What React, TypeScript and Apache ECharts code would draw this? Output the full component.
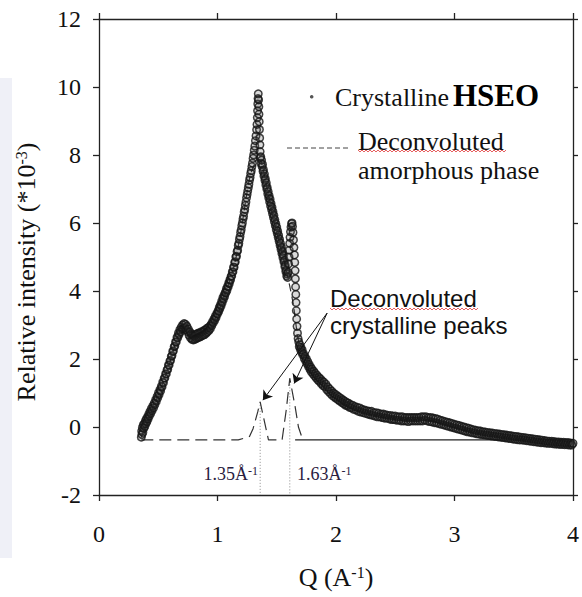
import React, { useEffect, useRef } from 'react';
import * as echarts from 'echarts';

// ---- Data (Q in Å^-1, relative intensity *10^-3) ----
const risePoints = [
  [0.357,-0.3],[0.36,-0.12],[0.362,-0.22],[0.366,-0.02],[0.37,-0.16],[0.374,0.06],[0.378,-0.04],[0.382,0.1],[0.387,0.02],[0.391,0.18],
  [0.396,0.1],[0.4,0.24],[0.405,0.16],[0.41,0.3],[0.415,0.24],[0.42,0.38],[0.425,0.32],[0.43,0.46],[0.436,0.4],[0.442,0.54],
  [0.448,0.48],[0.454,0.62],[0.46,0.56],[0.466,0.7],[0.472,0.66],[0.478,0.8],[0.484,0.76],[0.49,0.9],[0.496,0.86],[0.502,1.0],
  [0.508,0.96],[0.514,1.1],[0.52,1.06],[0.526,1.2],[0.532,1.18],[0.538,1.32],[0.544,1.3],[0.55,1.44],[0.556,1.44],[0.562,1.56],
  [0.568,1.56],[0.574,1.68],[0.58,1.7],[0.586,1.82],[0.592,1.82],[0.598,1.94],[0.604,1.96],[0.61,2.08],[0.616,2.1],[0.622,2.22],
  [0.628,2.24],[0.634,2.36],[0.64,2.38],[0.646,2.5],[0.652,2.5],[0.658,2.64],[0.664,2.62],[0.67,2.76],[0.676,2.72],[0.682,2.86],
  [0.688,2.8],[0.694,2.94],[0.7,2.88]
];
const shoulderPoints = [
  [0.706,3.0],[0.712,2.9],[0.718,3.04],[0.724,2.92],[0.73,3.02],[0.736,2.86],[0.742,2.96],[0.748,2.8],[0.754,2.88],[0.76,2.7],
  [0.766,2.8],[0.772,2.62],[0.778,2.74],[0.784,2.58],[0.79,2.7],[0.796,2.56],[0.802,2.68],[0.808,2.58],[0.814,2.72],[0.82,2.6],
  [0.826,2.74],[0.832,2.62],[0.838,2.76],[0.844,2.64],[0.85,2.76],[0.856,2.66],[0.862,2.8],[0.868,2.68],[0.874,2.8],[0.88,2.7],
  [0.886,2.84],[0.892,2.72],[0.898,2.86],[0.904,2.76],[0.91,2.9],[0.916,2.8],[0.922,2.92],[0.928,2.84],[0.934,2.96],[0.94,2.9],
  [0.946,3.02],[0.952,2.98],[0.958,3.1],[0.964,3.06],[0.97,3.18],[0.976,3.14],[0.982,3.26],[0.988,3.22],[0.994,3.34],[1.0,3.32]
];
const mainRisePoints = [
  [1.005,3.42],[1.01,3.4],[1.015,3.52],[1.02,3.48],[1.025,3.6],[1.03,3.56],[1.035,3.7],[1.04,3.66],[1.045,3.8],[1.05,3.76],
  [1.055,3.88],[1.06,3.84],[1.065,3.96],[1.07,3.94],[1.075,4.06],[1.08,4.02],[1.085,4.14],[1.09,4.12],[1.095,4.24],[1.1,4.22],
  [1.105,4.34],[1.11,4.32],[1.115,4.44],[1.12,4.44],[1.125,4.56],[1.13,4.56],[1.135,4.7],[1.14,4.7],[1.145,4.84],[1.15,4.86],
  [1.155,5.0],[1.16,5.02],[1.165,5.16],[1.17,5.2],[1.175,5.34],[1.18,5.4],[1.185,5.52],[1.19,5.6],[1.195,5.72],[1.2,5.8],
  [1.205,5.92],[1.21,6.0],[1.215,6.12],[1.22,6.2],[1.225,6.32],[1.23,6.4],[1.235,6.52],[1.24,6.62],[1.245,6.74],[1.25,6.84],
  [1.255,6.94],[1.26,7.04],[1.265,7.14],[1.27,7.26],[1.275,7.34],[1.28,7.46],[1.285,7.54],[1.29,7.66],[1.295,7.76],[1.3,7.9],
  [1.305,8.0],[1.31,8.14],[1.315,8.26],[1.32,8.42],[1.325,8.56],[1.33,8.74]
];
const peakTopPoints = [
  [1.333,8.9],[1.336,9.1],[1.338,9.3],[1.34,9.5],[1.342,9.66],[1.344,9.8],[1.347,9.62],[1.349,9.42],[1.35,9.2],[1.352,8.98],
  [1.354,8.75],[1.356,8.5],[1.358,8.3],[1.36,8.1],[1.362,7.92]
];
const mainFallPoints = [
  [1.365,7.95],[1.368,7.75],[1.372,7.85],[1.376,7.66],[1.38,7.72],[1.384,7.52],[1.388,7.56],[1.392,7.38],[1.396,7.44],[1.4,7.26],
  [1.404,7.3],[1.408,7.12],[1.412,7.18],[1.416,7.0],[1.42,7.04],[1.424,6.86],[1.428,6.92],[1.432,6.74],[1.436,6.8],[1.44,6.62],
  [1.444,6.7],[1.448,6.5],[1.452,6.58],[1.456,6.4],[1.46,6.46],[1.464,6.28],[1.468,6.34],[1.472,6.16],[1.476,6.22],[1.48,6.04],
  [1.484,6.1],[1.488,5.92],[1.492,5.98],[1.496,5.8],[1.5,5.88],[1.504,5.7],[1.508,5.76],[1.512,5.58],[1.516,5.64],[1.52,5.46],
  [1.524,5.52],[1.528,5.34],[1.532,5.4],[1.536,5.22],[1.54,5.28],[1.544,5.1],[1.548,5.16],[1.552,4.98],[1.556,5.04],[1.56,4.86],
  [1.564,4.9],[1.568,4.72],[1.572,4.76],[1.576,4.58],[1.58,4.62],[1.584,4.44],[1.588,4.5],[1.592,4.4]
];
const secondPeakPoints = [
  [1.596,4.55],[1.6,4.8],[1.603,5.0],[1.606,5.2],[1.609,5.4],[1.612,5.58],[1.616,5.74],[1.62,5.88],[1.625,5.98],[1.629,6.0],
  [1.633,5.9],[1.637,5.72],[1.641,5.5],[1.645,5.28],[1.649,5.06],[1.652,4.84],[1.655,4.6],[1.657,4.36],[1.659,4.12],[1.661,3.9],
  [1.663,3.66],[1.665,3.42],[1.668,3.18],[1.671,2.96],[1.675,2.76],[1.68,2.6]
];
const tailPoints = [
  [1.686,2.5],[1.69,2.36],[1.695,2.42],[1.7,2.28],[1.705,2.34],[1.71,2.2],[1.715,2.26],[1.72,2.12],[1.726,2.16],[1.732,2.02],
  [1.738,2.08],[1.744,1.94],[1.75,2.0],[1.756,1.86],[1.762,1.92],[1.768,1.78],[1.774,1.84],[1.78,1.7],[1.786,1.76],[1.792,1.62],
  [1.798,1.7],[1.805,1.56],[1.812,1.64],[1.819,1.5],[1.826,1.58],[1.833,1.44],[1.84,1.52],[1.847,1.38],[1.854,1.46],[1.861,1.34],
  [1.868,1.42],[1.875,1.28],[1.882,1.36],[1.89,1.22],[1.898,1.32],[1.906,1.18],[1.914,1.26],[1.922,1.1],[1.93,1.18],[1.938,1.04],
  [1.946,1.12],[1.954,0.98],[1.962,1.06],[1.97,0.92],[1.978,1.0],[1.986,0.88],[1.994,0.96],[2.002,0.84],[2.01,0.92],[2.018,0.8],
  [2.026,0.88],[2.034,0.76],[2.042,0.84],[2.05,0.72],[2.058,0.8],[2.066,0.68],[2.074,0.76],[2.082,0.64],[2.09,0.72],[2.098,0.62],
  [2.106,0.7],[2.114,0.58],[2.122,0.66],[2.13,0.56],[2.14,0.64],[2.15,0.52],[2.16,0.6],[2.17,0.5],[2.18,0.58],[2.19,0.46],
  [2.2,0.56],[2.21,0.44],[2.22,0.52],[2.23,0.42],[2.24,0.5],[2.25,0.4],[2.26,0.48],[2.27,0.38],[2.28,0.46],[2.29,0.36],
  [2.3,0.46],[2.31,0.34],[2.32,0.42],[2.33,0.32],[2.34,0.42],[2.35,0.3],[2.36,0.4],[2.37,0.3],[2.38,0.38],[2.39,0.28],
  [2.4,0.38],[2.41,0.26],[2.42,0.36],[2.43,0.26],[2.44,0.34],[2.45,0.24],[2.46,0.34],[2.47,0.22],[2.48,0.32],[2.49,0.22],
  [2.5,0.32],[2.51,0.2],[2.52,0.3],[2.53,0.2],[2.54,0.3],[2.55,0.18],[2.56,0.3],[2.57,0.18],[2.58,0.28],[2.59,0.18],
  [2.6,0.28],[2.61,0.16],[2.62,0.28],[2.63,0.18],[2.64,0.28],[2.65,0.18],[2.66,0.28],[2.67,0.18],[2.68,0.28],[2.69,0.18],
  [2.7,0.28],[2.71,0.18],[2.72,0.3],[2.73,0.18],[2.74,0.3],[2.75,0.2],[2.76,0.3],[2.77,0.18],[2.78,0.28],[2.79,0.16],
  [2.8,0.28],[2.81,0.15],[2.82,0.26],[2.83,0.13],[2.84,0.25],[2.85,0.12],[2.86,0.23],[2.87,0.1],[2.88,0.2],[2.89,0.08],
  [2.9,0.18],[2.91,0.06],[2.92,0.16],[2.93,0.04],[2.94,0.14],[2.95,0.02],[2.96,0.12],[2.97,0.0],[2.98,0.1],[2.99,-0.02],
  [3.0,0.08],[3.01,-0.04],[3.02,0.06],[3.03,-0.06],[3.04,0.04],[3.05,-0.08],[3.06,0.02],[3.07,-0.1],[3.08,0.0],[3.09,-0.12],
  [3.1,-0.02],[3.11,-0.14],[3.12,-0.04],[3.13,-0.15],[3.14,-0.06],[3.15,-0.17],[3.16,-0.08],[3.17,-0.18],[3.18,-0.1],[3.19,-0.2],
  [3.2,-0.11],[3.21,-0.21],[3.22,-0.12],[3.23,-0.22],[3.24,-0.14],[3.25,-0.23],[3.26,-0.15],[3.27,-0.24],[3.28,-0.16],[3.29,-0.25],
  [3.3,-0.17],[3.31,-0.26],[3.32,-0.18],[3.33,-0.27],[3.34,-0.19],[3.35,-0.28],[3.36,-0.2],[3.37,-0.29],[3.38,-0.21],[3.39,-0.3],
  [3.4,-0.22],[3.41,-0.31],[3.42,-0.23],[3.43,-0.32],[3.44,-0.24],[3.45,-0.33],[3.46,-0.25],[3.47,-0.34],[3.48,-0.26],[3.49,-0.35],
  [3.5,-0.27],[3.51,-0.36],[3.52,-0.28],[3.53,-0.37],[3.54,-0.29],[3.55,-0.38],[3.56,-0.3],[3.57,-0.38],[3.58,-0.31],[3.59,-0.39],
  [3.6,-0.32],[3.61,-0.4],[3.62,-0.33],[3.63,-0.41],[3.64,-0.34],[3.65,-0.42],[3.66,-0.35],[3.67,-0.43],[3.68,-0.36],[3.69,-0.44],
  [3.7,-0.37],[3.71,-0.45],[3.72,-0.38],[3.73,-0.46],[3.74,-0.39],[3.75,-0.46],[3.76,-0.4],[3.77,-0.47],[3.78,-0.41],[3.79,-0.48],
  [3.8,-0.42],[3.81,-0.48],[3.82,-0.42],[3.83,-0.49],[3.84,-0.43],[3.85,-0.5],[3.86,-0.44],[3.87,-0.5],[3.88,-0.44],[3.89,-0.51],
  [3.9,-0.45],[3.91,-0.51],[3.92,-0.45],[3.93,-0.52],[3.94,-0.46],[3.95,-0.52],[3.96,-0.46],[3.97,-0.53],[3.98,-0.47],[3.99,-0.53],[4.0,-0.48]
];

const amorphousCurve = [
  [0.357,-0.3],[0.4,0.1],[0.45,0.52],[0.5,0.94],[0.55,1.4],[0.6,1.92],[0.65,2.5],[0.7,2.88],[0.75,2.84],[0.8,2.64],
  [0.85,2.7],[0.9,2.82],[0.95,3.0],[1.0,3.32],[1.05,3.78],[1.1,4.26],[1.15,4.88],[1.2,5.8],[1.24,6.7],[1.27,7.3],
  [1.3,7.64],[1.33,7.8],[1.355,7.86],[1.38,7.66],[1.42,6.98],[1.47,6.14],[1.52,5.46],[1.56,4.9],[1.6,4.3],[1.64,3.6],
  [1.68,2.6],[1.72,2.15],[1.76,1.9],[1.8,1.64],[1.9,1.26],[2.0,0.9],[2.1,0.67],[2.2,0.5],[2.4,0.33],[2.6,0.23],
  [2.8,0.22],[3.0,0.02],[3.2,-0.16],[3.4,-0.27],[3.6,-0.36],[3.8,-0.45],[4.0,-0.5]
];
const crystallinePeakCurve = [
  [0.357,-0.38],[1.175,-0.38],[1.27,-0.28],[1.3,-0.05],[1.34,0.45],[1.36,0.74],[1.43,-0.38],[1.545,-0.38],[1.58,0.5],
  [1.61,1.43],[1.655,0.6],[1.683,0.0],[1.72,-0.38]
];
const solidBaseline = [[1.655,-0.38],[4.0,-0.38]];
const peakPositions = [1.36, 1.61];
const peakHeights = [0.74, 1.43];
const peakLabels = ['1.35', '1.63'];
const arrowStart = [1.925, 3.35];
const arrowTargets = [[1.383, 0.79], [1.647, 1.28]];
const xRange = { min: 0, max: 4, interval: 1 };
const yRange = { min: -2, max: 12, interval: 2 };

const serif = 'Liberation Serif';
const sans = 'Liberation Sans';
const ink = '#111';

function wavy(x0: number, x1: number, y: number) {
  const pts: number[][] = [];
  let k = 0;
  for (let x = x0; x <= x1; x += 2) {
    pts.push([x, y + (k % 2 === 0 ? -1 : 1)]);
    k++;
  }
  return { type: 'polyline', shape: { points: pts }, style: { stroke: '#e03a3a', lineWidth: 0.8, fill: null } };
}

export default function App() {
  const ref = useRef<HTMLDivElement>(null);
  useEffect(() => {
    document.body.style.margin = '0';
    const chart = echarts.init(ref.current!, null, { renderer: 'svg' });
    const axisLineStyle = { color: '#222', width: 1.3 };
    const crystalline = [
      ...risePoints, ...shoulderPoints, ...mainRisePoints, ...peakTopPoints,
      ...mainFallPoints, ...secondPeakPoints, ...tailPoints
    ];
    const supLabel = (size: number, supSize: number, color: string) => ({
      b: { fontSize: size, fontFamily: serif, color, fill: color },
      sup: { fontSize: supSize, fontFamily: serif, color, fill: color, verticalAlign: 'top' }
    });
    const option: any = {
      animation: false,
      backgroundColor: '#ffffff',
      textStyle: { fontFamily: serif },
      grid: { left: 99, top: 19, width: 477, height: 476 },
      xAxis: [
        {
          type: 'value', position: 'bottom', ...xRange,
          axisLine: { show: true, onZero: false, lineStyle: axisLineStyle },
          axisTick: { show: true, inside: false, length: 6, lineStyle: axisLineStyle },
          axisLabel: { fontSize: 24, fontFamily: serif, color: ink, margin: 27 },
          splitLine: { show: false },
          name: '{b|Q (A}{sup|-1}{b|)}', nameLocation: 'middle', nameGap: 69,
          nameTextStyle: { fontSize: 26, fontFamily: serif, color: ink, rich: supLabel(26, 16, ink) }
        },
        {
          type: 'value', position: 'top', ...xRange,
          axisLine: { show: true, onZero: false, lineStyle: axisLineStyle },
          axisTick: { show: true, inside: false, length: 6, lineStyle: axisLineStyle },
          axisLabel: { show: false }, splitLine: { show: false }
        }
      ],
      yAxis: [
        {
          type: 'value', position: 'left', ...yRange,
          axisLine: { show: true, onZero: false, lineStyle: axisLineStyle },
          axisTick: { show: true, inside: false, length: 6, lineStyle: axisLineStyle },
          axisLabel: { fontSize: 24, fontFamily: serif, color: ink, margin: 18 },
          splitLine: { show: false }
        },
        {
          type: 'value', position: 'right', ...yRange,
          axisLine: { show: true, onZero: false, lineStyle: axisLineStyle },
          axisTick: { show: true, inside: false, length: 5, lineStyle: axisLineStyle },
          axisLabel: { show: false }, splitLine: { show: false }
        }
      ],
      series: [
        {
          name: 'Deconvoluted amorphous phase', type: 'line', data: amorphousCurve,
          symbol: 'none', smooth: 0.3, z: 2,
          lineStyle: { color: '#333', width: 1.2, type: [8, 5] }
        },
        {
          name: 'Crystalline HSEO', type: 'scatter', data: crystalline, z: 3,
          symbol: 'circle', symbolSize: 7.5,
          itemStyle: { color: 'rgba(70,70,70,0.25)', borderColor: '#151515', borderWidth: 1.5 }
        },
        {
          name: 'Deconvoluted crystalline peaks', type: 'line', data: crystallinePeakCurve,
          symbol: 'none', z: 2,
          lineStyle: { color: '#333', width: 1.2, type: [12, 6] }
        },
        {
          name: 'baseline', type: 'line', data: solidBaseline, symbol: 'none', z: 2,
          lineStyle: { color: '#222', width: 1.3 }
        },
        ...peakPositions.map((q, i) => ({
          name: 'peak ' + peakLabels[i], type: 'line', symbol: 'none', z: 1,
          data: [[q, peakHeights[i]], [q, yRange.min]],
          lineStyle: { color: '#8a8a8a', width: 1, type: [1, 2] }
        })),
        {
          name: 'arrows', type: 'lines', coordinateSystem: 'cartesian2d', z: 4,
          symbol: ['none', 'arrow'], symbolSize: 9,
          lineStyle: { color: '#111', width: 1, opacity: 1 },
          data: arrowTargets.map((t) => ({ coords: [arrowStart, t] }))
        }
      ],
      graphic: [
        { type: 'rect', z: -10, shape: { x: 0, y: 78, width: 12, height: 480 }, style: { fill: '#eff0f7' } },
        {
          type: 'text', x: 26, y: 272, rotation: Math.PI / 2,
          style: {
            text: '{b|Relative intensity (*10}{sup|-3}{b|)}', fontSize: 26, fontFamily: serif, fill: ink,
            align: 'center', verticalAlign: 'middle',
            rich: supLabel(26, 16, ink)
          }
        },
        // legend
        { type: 'circle', shape: { cx: 311.7, cy: 96.7, r: 1.8 }, style: { fill: '#555' } },
        { type: 'text', x: 335, y: 97, style: { text: 'Crystalline', fontSize: 26, fontFamily: serif, fill: ink, align: 'left', verticalAlign: 'middle' } },
        { type: 'text', x: 453, y: 95, style: { text: 'HSEO', fontSize: 31, fontWeight: 'bold', fontFamily: serif, fill: '#000', align: 'left', verticalAlign: 'middle' } },
        { type: 'line', shape: { x1: 287, y1: 148, x2: 348, y2: 148 }, style: { stroke: '#444', lineWidth: 1, lineDash: [5, 3] } },
        { type: 'text', x: 358, y: 141.5, style: { text: 'Deconvoluted', fontSize: 26, fontFamily: serif, fill: ink, align: 'left', verticalAlign: 'middle' } },
        { type: 'text', x: 358, y: 170, style: { text: 'amorphous phase', fontSize: 26, fontFamily: serif, fill: ink, align: 'left', verticalAlign: 'middle' } },
        wavy(358, 507, 151),
        // crystalline peaks annotation
        { type: 'text', x: 330, y: 298.5, style: { text: 'Deconvoluted', fontSize: 24, fontFamily: sans, fill: ink, align: 'left', verticalAlign: 'middle' } },
        { type: 'text', x: 330, y: 325, style: { text: 'crystalline peaks', fontSize: 24, fontFamily: sans, fill: ink, align: 'left', verticalAlign: 'middle' } },
        wavy(330, 478, 309),
        // peak position labels
        {
          type: 'text', x: 258, y: 474,
          style: {
            text: '{b|' + peakLabels[0] + 'Å}{sup|-1}', fontSize: 18, fontFamily: serif, fill: '#2a2040',
            align: 'right', verticalAlign: 'middle',
            rich: supLabel(18, 12, '#2a2040')
          }
        },
        {
          type: 'text', x: 297, y: 474,
          style: {
            text: '{b|' + peakLabels[1] + 'Å}{sup|-1}', fontSize: 18, fontFamily: serif, fill: '#2a2040',
            align: 'left', verticalAlign: 'middle',
            rich: supLabel(18, 12, '#2a2040')
          }
        }
      ]
    };
    chart.setOption(option);
    return () => chart.dispose();
  }, []);
  return <div ref={ref} style={{ width: 582, height: 597 }} />;
}
